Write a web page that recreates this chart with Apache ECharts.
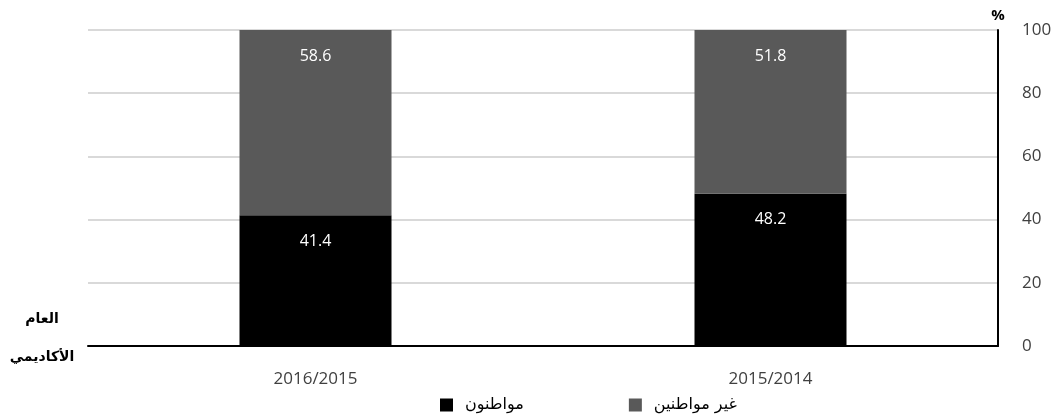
<!DOCTYPE html>
<html>
<head>
    <meta charset="utf-8">
    <title>مواطنون وغير مواطنين</title>
    <script src="https://cdn.jsdelivr.net/npm/echarts@6/dist/echarts.min.js"></script>
</head>
<style>
    html, body { margin: 0; padding: 0; background: #fff; }
    #chart { width: 1056px; height: 419px; }
</style>
<body>
<div id="chart"></div>
<script>
    // السنوات الأكاديمية والنسب
    var years = ['2016/2015', '2015/2014'];
    var citizens = [41.4, 48.2];
    var nonCitizens = [58.6, 51.8];
    var yTicks = [0, 20, 40, 60, 80, 100];

    var chart = echarts.init(document.getElementById('chart'));

    var barLabel = {
        show: true,
        position: 'insideTop',
        distance: 18,
        color: '#ffffff',
        fontFamily: 'Open Sans',
        fontSize: 16
    };

    var option = {
        animation: false,
        textStyle: { fontFamily: 'Open Sans' },
        grid: { left: 88, right: 58, top: 30, bottom: 73 },
        legend: {
            bottom: 1,
            left: 435,
            itemWidth: 13,
            itemHeight: 13,
            itemGap: 105,
            icon: 'rect',
            textStyle: { fontFamily: 'DejaVu Sans', fontSize: 16, color: '#000', padding: [0, 0, 0, 7] },
            data: ['مواطنون', 'غير مواطنين']
        },
        xAxis: {
            type: 'category',
            data: years,
            axisLine: { lineStyle: { color: '#000', width: 2 } },
            axisTick: { show: false },
            axisLabel: { color: '#404040', fontSize: 17, margin: 25 }
        },
        yAxis: {
            type: 'value',
            position: 'right',
            min: yTicks[0],
            max: yTicks[yTicks.length - 1],
            interval: 20,
            name: '%',
            nameLocation: 'end',
            nameGap: 7,
            nameTextStyle: { color: '#000', fontSize: 15, fontWeight: 'bold', align: 'center' },
            axisLine: { show: true, lineStyle: { color: '#000', width: 2 } },
            axisTick: { show: false },
            axisLabel: { color: '#404040', fontSize: 17, margin: 24 },
            splitLine: { lineStyle: { color: '#d9d9d9', width: 2 } }
        },
        series: [
            {
                name: 'مواطنون',
                type: 'bar',
                stack: 'all',
                barWidth: 152,
                itemStyle: { color: '#000000' },
                label: barLabel,
                data: citizens
            },
            {
                name: 'غير مواطنين',
                type: 'bar',
                stack: 'all',
                barWidth: 152,
                itemStyle: { color: '#595959' },
                label: barLabel,
                data: nonCitizens
            }
        ],
        graphic: [
            {
                type: 'text',
                x: 42,
                y: 319,
                style: { text: 'العام', font: 'bold 14px "DejaVu Sans"', fill: '#000', align: 'center', verticalAlign: 'middle' }
            },
            {
                type: 'text',
                x: 42,
                y: 357,
                style: { text: 'الأكاديمي', font: 'bold 14px "DejaVu Sans"', fill: '#000', align: 'center', verticalAlign: 'middle' }
            }
        ]
    };
    chart.setOption(option);
</script>
</body>
</html>
